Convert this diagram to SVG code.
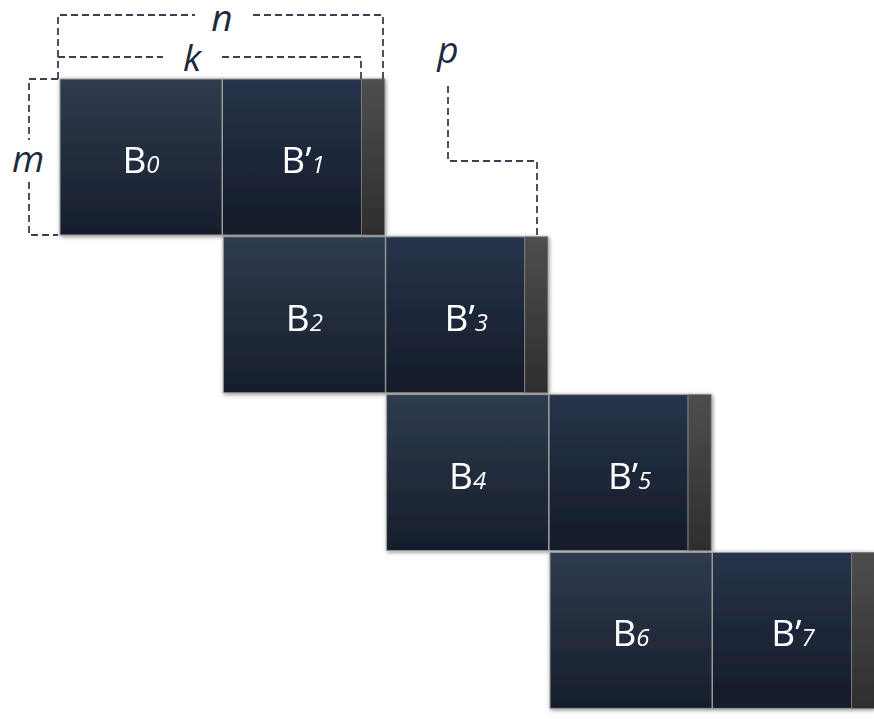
<svg xmlns="http://www.w3.org/2000/svg" width="874" height="719" viewBox="0 0 874 719">
  <defs>
    <linearGradient id="gBlock" x1="0" y1="0" x2="0" y2="1">
      <stop offset="0" stop-color="#2f3b4e"/>
      <stop offset="1" stop-color="#161e2c"/>
    </linearGradient>
    <linearGradient id="gBlockB" x1="0" y1="0" x2="0" y2="1">
      <stop offset="0" stop-color="#27344a"/>
      <stop offset="1" stop-color="#141b29"/>
    </linearGradient>
    <linearGradient id="gStrip" x1="0" y1="0" x2="0" y2="1">
      <stop offset="0" stop-color="#4e4e4e"/>
      <stop offset="1" stop-color="#2e2e2e"/>
    </linearGradient>
    <filter id="shadow" x="-10%" y="-10%" width="120%" height="120%">
      <feGaussianBlur in="SourceAlpha" stdDeviation="2.2"/>
      <feOffset dx="1" dy="1" result="b"/>
      <feComponentTransfer><feFuncA type="linear" slope="0.5"/></feComponentTransfer>
      <feMerge><feMergeNode/><feMergeNode in="SourceGraphic"/></feMerge>
    </filter>
  </defs>
  <style>
    .blk { fill: url(#gBlock); stroke: #9a9a9a; stroke-width: 1; }
    .blkp { fill: url(#gBlockB); stroke: #9a9a9a; stroke-width: 1; }
    .strip { fill: url(#gStrip); stroke: #7a7a7a; stroke-width: 0.8; }
    .lbl { font-family: "Open Sans", "Noto Sans", sans-serif; font-size: 37px; fill: #ffffff; text-anchor: middle; }
    .sub { font-style: italic; font-size: 24px; }
    .dim { fill: none; stroke: #354052; stroke-width: 1.8; stroke-dasharray: 7 4; }
    .var { font-family: "Open Sans", "Noto Sans", sans-serif; font-style: italic; font-size: 37px; fill: #1f2a3d; text-anchor: middle; }
  </style>

  <!-- row 0 -->
  <g id="row0" transform="translate(60,79)" filter="url(#shadow)">
    <g id="B0"><rect class="blk" x="0" y="0" width="162" height="156"/><text class="lbl" x="81" y="94">B<tspan class="sub">0</tspan></text></g>
    <g id="B1"><rect class="blkp" x="162.5" y="0" width="139" height="156"/><rect class="strip" x="301.5" y="0" width="23" height="156"/><text class="lbl" x="243" y="94">B’<tspan class="sub">1</tspan></text></g>
  </g>
  <!-- row 1 -->
  <g id="row1" transform="translate(223.3,236.8)" filter="url(#shadow)">
    <g id="B2"><rect class="blk" x="0" y="0" width="162" height="156"/><text class="lbl" x="81" y="94">B<tspan class="sub">2</tspan></text></g>
    <g id="B3"><rect class="blkp" x="162.5" y="0" width="139" height="156"/><rect class="strip" x="301.5" y="0" width="23" height="156"/><text class="lbl" x="243" y="94">B’<tspan class="sub">3</tspan></text></g>
  </g>
  <!-- row 2 -->
  <g id="row2" transform="translate(386.6,394.6)" filter="url(#shadow)">
    <g id="B4"><rect class="blk" x="0" y="0" width="162" height="156"/><text class="lbl" x="81" y="94">B<tspan class="sub">4</tspan></text></g>
    <g id="B5"><rect class="blkp" x="162.5" y="0" width="139" height="156"/><rect class="strip" x="301.5" y="0" width="23" height="156"/><text class="lbl" x="243" y="94">B’<tspan class="sub">5</tspan></text></g>
  </g>
  <!-- row 3 -->
  <g id="row3" transform="translate(550,552.4)" filter="url(#shadow)">
    <g id="B6"><rect class="blk" x="0" y="0" width="162" height="156"/><text class="lbl" x="81" y="94">B<tspan class="sub">6</tspan></text></g>
    <g id="B7"><rect class="blkp" x="162.5" y="0" width="139" height="156"/><rect class="strip" x="301.5" y="0" width="23" height="156"/><text class="lbl" x="243" y="94">B’<tspan class="sub">7</tspan></text></g>
  </g>

  <!-- dimension brackets -->
  <g id="connectors">
    <path class="dim" d="M58,79 V15 H195 M253,15 H383 V79"/>
    <path class="dim" d="M58,57 H163 M222,57 H361 V79"/>
    <path class="dim" d="M58,79 H29 V140 M29,182 V235 H58"/>
    <path class="dim" d="M448,86 V161 H537 V236"/>
  </g>

  <!-- dimension labels -->
  <g id="labels">
    <text id="n" class="var" x="222" y="31">n</text>
    <text id="k" class="var" x="192" y="71">k</text>
    <text id="m" class="var" x="28" y="172">m</text>
    <text id="p" class="var" x="448" y="63">p</text>
  </g>
</svg>
